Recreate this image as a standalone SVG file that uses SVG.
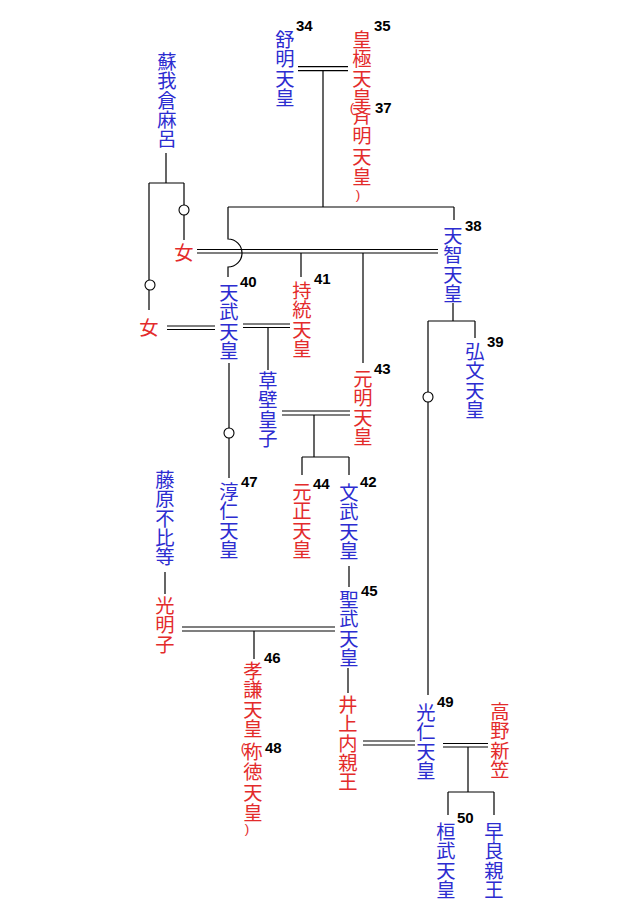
<svg xmlns="http://www.w3.org/2000/svg" width="636" height="905" viewBox="0 0 636 905">
<style>
.n{font-family:"Noto Sans CJK JP","Noto Sans CJK SC",sans-serif;font-size:19.3px;writing-mode:vertical-rl;text-orientation:upright}
.b{fill:#2c2cd0}
.r{fill:#e32b2b}
.p{font-family:"Liberation Sans",sans-serif;font-size:13.5px;text-orientation:upright}
.w{letter-spacing:1.2px}
.num{font-family:"Liberation Sans",Arial,sans-serif;font-weight:bold;font-size:15px;fill:#000}
.ln{stroke:#000;stroke-width:1.2;fill:none}
.c{stroke:#000;stroke-width:1.1;fill:#fff}
</style>
<rect width="636" height="905" fill="#fff"/>
<g id="connectors" class="ln">
<path d="M298 66.7H348M298 70.7H348M323 70.7V207M228 207H454M454 207V220"/>
<path d="M228 207V239A14 14 0 0 1 228 267V277"/>
<path d="M197 249.5H438M197 253H438M301 253V277M363 253V363"/>
<path d="M166 153V183M149 183H184M184 183V240M149 183V310"/>
<path d="M167 326H215M167 329.5H215M243 324H290M243 327.5H290M268 327.5V370"/>
<path d="M229 363V478"/>
<path d="M282 411H350M282 415H350M314 415V457M302 457H349M302 457V475M349 457V475"/>
<path d="M349 566V587M165 572V594M182 627H335M182 631H335M254 631V659M348 668V693"/>
<path d="M363 741H415M363 745H415"/>
<path d="M453 303V321M428 321H475M475 321V338M428 321V695"/>
<path d="M443 743.5H488M443 747H488M468 747V792M448 792H494M448 792V815M494 792V815"/>
<circle class="c" cx="184" cy="210" r="5"/>
<circle class="c" cx="150" cy="285" r="5"/>
<circle class="c" cx="229" cy="433" r="5"/>
<circle class="c" cx="428" cy="397" r="5"/>
</g>
<g id="jomei"><text class="n b" x="285" y="30">舒明天皇</text><text class="num" x="296" y="31">34</text></g>
<g id="kogyoku"><text class="n r" x="362" y="30">皇極天皇<tspan class="p" x="352" y="100">(</tspan><tspan class="w" x="362" y="106">斉明天皇</tspan><tspan class="p" x="358" y="187">)</tspan></text><text class="num" x="374" y="31">35</text><text class="num" x="375" y="113">37</text></g>
<g id="soga"><text class="n b" x="167" y="52">蘇我倉麻呂</text></g>
<g id="musume1"><text class="n r" x="184" y="243">女</text></g>
<g id="musume2"><text class="n r" x="149" y="318">女</text></g>
<g id="tenji"><text class="n b" x="453" y="226">天智天皇</text><text class="num" x="465" y="231">38</text></g>
<g id="tenmu"><text class="n b" x="229" y="283">天武天皇</text><text class="num" x="240" y="287">40</text></g>
<g id="jito"><text class="n r" x="302" y="281">持統天皇</text><text class="num" x="314" y="284">41</text></g>
<g id="genmei"><text class="n r" x="363" y="369">元明天皇</text><text class="num" x="374" y="374">43</text></g>
<g id="kobun"><text class="n b" x="475" y="342">弘文天皇</text><text class="num" x="487" y="347">39</text></g>
<g id="kusakabe"><text class="n b" x="268" y="371">草壁皇子</text></g>
<g id="junnin"><text class="n b" x="229" y="482">淳仁天皇</text><text class="num" x="241" y="487">47</text></g>
<g id="gensho"><text class="n r" x="302" y="482">元正天皇</text><text class="num" x="313" y="489">44</text></g>
<g id="monmu"><text class="n b" x="349" y="483">文武天皇</text><text class="num" x="360" y="487">42</text></g>
<g id="fuhito"><text class="n b" x="165" y="470">藤原不比等</text></g>
<g id="komyoshi"><text class="n r" x="165" y="596">光明子</text></g>
<g id="shomu"><text class="n b" x="349" y="590">聖武天皇</text><text class="num" x="361" y="596">45</text></g>
<g id="koken"><text class="n r" x="253" y="661">孝謙天皇<tspan class="p" x="243" y="740">(</tspan><tspan class="w" x="253" y="742">称徳天皇</tspan><tspan class="p" x="247" y="821">)</tspan></text><text class="num" x="264" y="663">46</text><text class="num" x="265" y="753">48</text></g>
<g id="inoue"><text class="n r" x="348" y="695">井上内親王</text></g>
<g id="konin"><text class="n b" x="426" y="703">光仁天皇</text><text class="num" x="437" y="707">49</text></g>
<g id="takano"><text class="n r" x="500" y="702">高野新笠</text></g>
<g id="kanmu"><text class="n b" x="446" y="822">桓武天皇</text><text class="num" x="457" y="823">50</text></g>
<g id="sawara"><text class="n b" x="494" y="822">早良親王</text></g>
</svg>
